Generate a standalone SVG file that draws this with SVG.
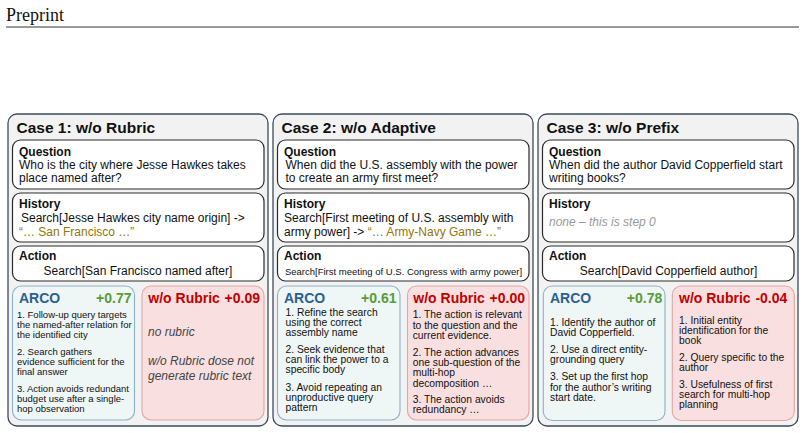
<svg xmlns="http://www.w3.org/2000/svg" width="805" height="433" viewBox="0 0 805 433">
<style>
text{font-family:"Liberation Sans",Arial,sans-serif;fill:#111}
.hdr{font-family:"Liberation Serif","Times New Roman",serif;font-size:18px;fill:#111}
.panel{fill:#f2f2f2;stroke:#3d4b5e;stroke-width:1.3}
.box{fill:#fff;stroke:#2a2a2a;stroke-width:1.2}
.arco{fill:#eef6f6;stroke:#8fb0c8;stroke-width:1.1}
.red{fill:#f9dfdf;stroke:#e2a5a5;stroke-width:1.1}
.title{font-size:15.5px;font-weight:bold}
.lbl{font-size:12px;font-weight:bold}
.txt{font-size:12px}
.gold{fill:#94760a}
.note{font-size:12px;font-style:italic;fill:#999}
.an{font-size:14px;font-weight:bold;fill:#2d5f8f}
.as{font-size:14px;font-weight:bold;fill:#5b9b3b;text-anchor:end}
.rn{font-size:14px;font-weight:bold;fill:#c00000}
.rs{font-size:14px;font-weight:bold;fill:#c00000;text-anchor:end}
.it{font-size:9.5px}
.it2{font-size:10.3px}
.ri{font-size:12px;font-style:italic;fill:#444}
</style>
<text class="hdr" x="6" y="21">Preprint</text>
<line x1="6" y1="27" x2="799" y2="27" stroke="#333" stroke-width="1"/>

<g id="case1">
<rect class="panel" x="8" y="114" width="260" height="312" rx="9"/>
<text class="title" x="16.5" y="133">Case 1: w/o Rubric</text>
<g id="c1-question">
<rect class="box" x="12.5" y="140" width="251.5" height="49" rx="8"/>
<text class="lbl" x="19" y="156">Question</text>
<text class="txt" x="19" y="168.5">Who is the city where Jesse Hawkes takes</text>
<text class="txt" x="19" y="182">place named after?</text>
</g>
<g id="c1-history">
<rect class="box" x="12.5" y="193" width="251.5" height="49" rx="8"/>
<text class="lbl" x="19" y="208">History</text>
<text class="txt" x="21" y="222">Search[Jesse Hawkes city name origin] -&gt;</text>
<text class="txt gold" x="19" y="235.5">“… San Francisco …”</text>
</g>
<g id="c1-action">
<rect class="box" x="12.5" y="246" width="251.5" height="35" rx="8"/>
<text class="lbl" x="19" y="260">Action</text>
<text class="txt" x="138" y="275" text-anchor="middle">Search[San Francisco named after]</text>
</g>
<g id="c1-arco">
<rect class="arco" x="12.5" y="286" width="122" height="134" rx="9"/>
<text class="an" x="19" y="303">ARCO</text>
<text class="as" x="131.5" y="303">+0.77</text>
<text class="it" x="17" y="318">1. Follow-up query targets</text>
<text class="it" x="17" y="328">the named-after relation for</text>
<text class="it" x="17" y="338">the identified city</text>
<text class="it" x="17" y="355">2. Search gathers</text>
<text class="it" x="17" y="365">evidence sufficient for the</text>
<text class="it" x="17" y="375">final answer</text>
<text class="it" x="17" y="392">3. Action avoids redundant</text>
<text class="it" x="17" y="402">budget use after a single-</text>
<text class="it" x="17" y="412">hop observation</text>
</g>
<g id="c1-worubric">
<rect class="red" x="142" y="286" width="122" height="134" rx="9"/>
<text class="rn" x="148.3" y="303">w/o Rubric</text>
<text class="rs" x="260" y="303">+0.09</text>
<text class="ri" x="148" y="336">no rubric</text>
<text class="ri" x="148" y="365">w/o Rubric dose not</text>
<text class="ri" x="148" y="379.5">generate rubric text</text>
</g>
</g>

<g id="case2">
<rect class="panel" x="273" y="114" width="260" height="312" rx="9"/>
<text class="title" x="281.5" y="133">Case 2: w/o Adaptive</text>
<g id="c2-question">
<rect class="box" x="277.5" y="140" width="251.5" height="49" rx="8"/>
<text class="lbl" x="284" y="156">Question</text>
<text class="txt" x="285.5" y="168.5">When did the U.S. assembly with the power</text>
<text class="txt" x="285.5" y="182">to create an army first meet?</text>
</g>
<g id="c2-history">
<rect class="box" x="277.5" y="193" width="251.5" height="49" rx="8"/>
<text class="lbl" x="284" y="208">History</text>
<text class="txt" x="284" y="222">Search[First meeting of U.S. assembly with</text>
<text class="txt" x="284" y="235.5">army power] -&gt; <tspan class="gold">“… Army-Navy Game …”</tspan></text>
</g>
<g id="c2-action">
<rect class="box" x="277.5" y="246" width="251.5" height="35" rx="8"/>
<text class="lbl" x="284" y="260">Action</text>
<text x="403.5" y="275" text-anchor="middle" style="font-size:9.5px">Search[First meeting of U.S. Congress with army power]</text>
</g>
<g id="c2-arco">
<rect class="arco" x="277.5" y="286" width="122.5" height="134" rx="9"/>
<text class="an" x="284" y="303">ARCO</text>
<text class="as" x="396.5" y="303">+0.61</text>
<text class="it2" x="285.5" y="316">1. Refine the search</text>
<text class="it2" x="285.5" y="326">using the correct</text>
<text class="it2" x="285.5" y="336">assembly name</text>
<text class="it2" x="285.5" y="353">2. Seek evidence that</text>
<text class="it2" x="285.5" y="363">can link the power to a</text>
<text class="it2" x="285.5" y="373">specific body</text>
<text class="it2" x="285.5" y="390.5">3. Avoid repeating an</text>
<text class="it2" x="285.5" y="400.5">unproductive query</text>
<text class="it2" x="285.5" y="410.5">pattern</text>
</g>
<g id="c2-worubric">
<rect class="red" x="407.5" y="286" width="121.5" height="134" rx="9"/>
<text class="rn" x="413.3" y="303">w/o Rubric</text>
<text class="rs" x="525" y="303">+0.00</text>
<text class="it2" x="412.7" y="318">1. The action is relevant</text>
<text class="it2" x="412.7" y="328.5">to the question and the</text>
<text class="it2" x="412.7" y="339">current evidence.</text>
<text class="it2" x="412.7" y="355.5">2. The action advances</text>
<text class="it2" x="412.7" y="365.8">one sub-question of the</text>
<text class="it2" x="412.7" y="376.3">multi-hop</text>
<text class="it2" x="412.7" y="386.7">decomposition …</text>
<text class="it2" x="412.7" y="403">3. The action avoids</text>
<text class="it2" x="412.7" y="413.3">redundancy …</text>
</g>
</g>

<g id="case3">
<rect class="panel" x="538" y="114" width="260" height="312" rx="9"/>
<text class="title" x="546.5" y="133">Case 3: w/o Prefix</text>
<g id="c3-question">
<rect class="box" x="542.5" y="140" width="251.5" height="49" rx="8"/>
<text class="lbl" x="549" y="156">Question</text>
<text class="txt" x="549" y="168.5">When did the author David Copperfield start</text>
<text class="txt" x="549" y="182">writing books?</text>
</g>
<g id="c3-history">
<rect class="box" x="542.5" y="193" width="251.5" height="49" rx="8"/>
<text class="lbl" x="549" y="208">History</text>
<text class="note" x="549" y="226">none – this is step 0</text>
</g>
<g id="c3-action">
<rect class="box" x="542.5" y="246" width="251.5" height="35" rx="8"/>
<text class="lbl" x="549" y="260">Action</text>
<text class="txt" x="668.5" y="275" text-anchor="middle">Search[David Copperfield author]</text>
</g>
<g id="c3-arco">
<rect class="arco" x="543.3" y="286" width="121.7" height="134.5" rx="9"/>
<text class="an" x="550" y="303">ARCO</text>
<text class="as" x="662.3" y="303">+0.78</text>
<text class="it2" x="550" y="326">1. Identify the author of</text>
<text class="it2" x="550" y="336">David Copperfield.</text>
<text class="it2" x="550" y="353.3">2. Use a direct entity-</text>
<text class="it2" x="550" y="363.3">grounding query</text>
<text class="it2" x="550" y="380">3. Set up the first hop</text>
<text class="it2" x="550" y="390.5">for the author’s writing</text>
<text class="it2" x="550" y="400.7">start date.</text>
</g>
<g id="c3-worubric">
<rect class="red" x="672.3" y="286" width="122" height="134.5" rx="9"/>
<text class="rn" x="679" y="303">w/o Rubric</text>
<text class="rs" x="787.3" y="303">-0.04</text>
<text class="it2" x="679" y="323.7">1. Initial entity</text>
<text class="it2" x="679" y="334">identification for the</text>
<text class="it2" x="679" y="344.3">book</text>
<text class="it2" x="679" y="361">2. Query specific to the</text>
<text class="it2" x="679" y="371">author</text>
<text class="it2" x="679" y="387.7">3. Usefulness of first</text>
<text class="it2" x="679" y="398">search for multi-hop</text>
<text class="it2" x="679" y="408.3">planning</text>
</g>
</g>
</svg>
